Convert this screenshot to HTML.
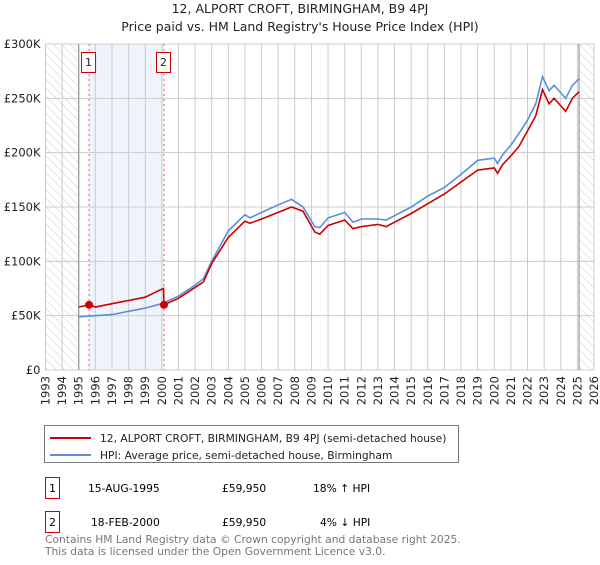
<!DOCTYPE html>
<html><head><meta charset="utf-8"><style>
body{margin:0;background:#fff;font-family:"Liberation Sans","DejaVu Sans",sans-serif;}
#wrap{position:relative;width:600px;height:560px;}
svg text{font-family:"DejaVu Sans","Liberation Sans",sans-serif;}
</style></head><body><div id="wrap">
<svg id="c" width="600" height="560">
<defs><pattern id="hatch" width="6" height="6" patternUnits="userSpaceOnUse" patternTransform="rotate(-45)"><line x1="0" y1="0" x2="0" y2="6" stroke="#ccc" stroke-width="1"/></pattern></defs>
<text x="300" y="13" text-anchor="middle" font-size="12.5" fill="#222">12, ALPORT CROFT, BIRMINGHAM, B9 4PJ</text>
<text x="300" y="31" text-anchor="middle" font-size="12.5" fill="#222">Price paid vs. HM Land Registry's House Price Index (HPI)</text>
<g id="plot"></g>
<rect x="44.5" y="425.5" width="414" height="37" fill="#fff" stroke="#777"/>
<line x1="50" y1="438" x2="91" y2="438" stroke="#cc0000" stroke-width="2"/>
<text x="100" y="442" font-size="10.7" fill="#222">12, ALPORT CROFT, BIRMINGHAM, B9 4PJ (semi-detached house)</text>
<line x1="50" y1="455" x2="91" y2="455" stroke="#5b8fd4" stroke-width="2"/>
<text x="100" y="459" font-size="10.7" fill="#222">HPI: Average price, semi-detached house, Birmingham</text>
<rect x="45.5" y="477.5" width="14" height="21" fill="#fff" stroke="#cc0000"/>
<text x="52.5" y="492" text-anchor="middle" font-size="11">1</text>
<text x="88" y="492" font-size="10.7">15-AUG-1995</text>
<text x="222" y="492" font-size="10.7">£59,950</text>
<text x="313" y="492" font-size="10.7">18% ↑ HPI</text>
<rect x="45.5" y="511.5" width="14" height="21" fill="#fff" stroke="#cc0000"/>
<text x="52.5" y="526" text-anchor="middle" font-size="11">2</text>
<text x="91" y="526" font-size="10.7">18-FEB-2000</text>
<text x="222" y="526" font-size="10.7">£59,950</text>
<text x="320" y="526" font-size="10.7">4% ↓ HPI</text>
<text x="45" y="543" font-size="10.7" fill="#777">Contains HM Land Registry data © Crown copyright and database right 2025.</text>
<text x="45" y="555" font-size="10.7" fill="#777">This data is licensed under the Open Government Licence v3.0.</text>
</svg></div>
<script>
const yTicks=[0,50000,100000,150000,200000,250000,300000];
const yTickLabels=["£0","£50K","£100K","£150K","£200K","£250K","£300K"];
const years=[1993,1994,1995,1996,1997,1998,1999,2000,2001,2002,2003,2004,2005,2006,2007,2008,2009,2010,2011,2012,2013,2014,2015,2016,2017,2018,2019,2020,2021,2022,2023,2024,2025,2026];
const hpiT=[1995,1996,1997,1998,1999,2000,2001,2002,2002.5,2003,2004,2005,2005.3,2006,2007,2007.8,2008.5,2009.2,2009.5,2010,2011,2011.5,2012,2013,2013.5,2014,2015,2016,2017,2018,2019,2020,2020.2,2020.5,2021,2021.5,2022,2022.5,2022.9,2023.3,2023.6,2024,2024.3,2024.7,2025.1];
const hpiV=[49000,50000,51000,54000,57000,61000,68000,78000,84000,100000,128000,143000,140000,145000,152000,157000,150000,132000,131000,140000,145000,136000,139000,139000,138000,142000,150000,160000,168000,180000,193000,195000,190000,198000,207000,218000,230000,245000,270000,257000,262000,255000,250000,262000,268000];
const ppT=[1995,1995.62,1996,1997,1998,1999,1999.8,2000.1,2000.13,2001,2002,2002.5,2003,2004,2005,2005.3,2006,2007,2007.8,2008.5,2009.2,2009.5,2010,2011,2011.5,2012,2013,2013.5,2014,2015,2016,2017,2018,2019,2020,2020.2,2020.5,2021,2021.5,2022,2022.5,2022.9,2023.3,2023.6,2024,2024.3,2024.7,2025.1];
const ppV=[58000,60000,58000,61000,64000,67000,73000,75000,60000,66000,76000,81000,98000,122000,137000,135000,139000,145000,150000,146000,127000,125000,133000,138000,130000,132000,134000,132000,136000,144000,153000,162000,173000,184000,186000,181000,189000,197000,206000,220000,234000,258000,245000,250000,243000,238000,250000,256000];
const sales=[{t:1995.62,v:59950,n:"1"},{t:2000.13,v:59950,n:"2"}];
const X0=45.5,X1=594,Y0=370,Y1=44;
const x=t=>X0+(t-1993)/(2026-1993)*(X1-X0);
const y=v=>Y0-v/300000*(Y0-Y1);
const g=document.getElementById('plot');const NS="http://www.w3.org/2000/svg";
function mk(tag,at,name){const e=document.createElementNS(NS,tag);for(const k in at)e.setAttribute(k,at[k]);


g.appendChild(e);return e;}
mk('rect',{x:x(sales[0].t),y:Y1,width:x(sales[1].t)-x(sales[0].t),height:Y0-Y1,fill:'#eef3fc'},'sale-period-band');
mk('rect',{x:X0,y:Y1,width:x(1995)-X0,height:Y0-Y1,fill:'url(#hatch)'},'hatch-left');
mk('rect',{x:x(2025.1),y:Y1,width:X1-x(2025.1),height:Y0-Y1,fill:'url(#hatch)'},'hatch-right');
years.forEach(t=>{mk('line',{x1:x(t),x2:x(t),y1:Y1,y2:Y0,stroke:'#ccc'},'x-grid-'+t);
const tx=mk('text',{x:0,y:0,'font-size':11.5,fill:'#222','text-anchor':'end',transform:`translate(${x(t)+4},${Y0+6}) rotate(-90)`},'x-tick-'+t);tx.textContent=t;});
yTicks.forEach((v,i)=>{mk('line',{x1:X0,x2:X1,y1:y(v),y2:y(v),stroke:'#ccc'},'y-grid-'+i);
const tx=mk('text',{x:X0-5,y:y(v)+4,'font-size':11.5,fill:'#222','text-anchor':'end'},'y-tick-'+i);tx.textContent=yTickLabels[i];});
mk('line',{x1:x(1995),x2:x(1995),y1:Y1,y2:Y0,stroke:'#888'},'data-start-line');
mk('line',{x1:x(2025.1),x2:x(2025.1),y1:Y1,y2:Y0,stroke:'#888'},'data-end-line');
sales.forEach(s=>mk('line',{x1:x(s.t),x2:x(s.t),y1:Y1,y2:Y0,stroke:'#f06060','stroke-dasharray':'2,3'},'sale-line-'+s.n));
const pts=(T,V)=>T.map((t,i)=>x(t).toFixed(1)+','+y(V[i]).toFixed(1)).join(' ');
mk('polyline',{points:pts(hpiT,hpiV),fill:'none',stroke:'#5b8fd4','stroke-width':1.6},'hpi-line');
mk('polyline',{points:pts(ppT,ppV),fill:'none',stroke:'#cc0000','stroke-width':1.6},'property-line');
sales.forEach(s=>{mk('circle',{cx:x(s.t),cy:y(s.v),r:4,fill:'#cc0000'},'sale-point-'+s.n);
mk('rect',{x:x(s.t)-7.5,y:52.5,width:14,height:20,fill:'#fff',stroke:'#cc0000'},'sale-badge-'+s.n);
const tx=mk('text',{x:x(s.t)-0.5,y:66,'font-size':11,'text-anchor':'middle',fill:'#222'},'sale-badge-label-'+s.n);tx.textContent=s.n;});
</script></body></html>
